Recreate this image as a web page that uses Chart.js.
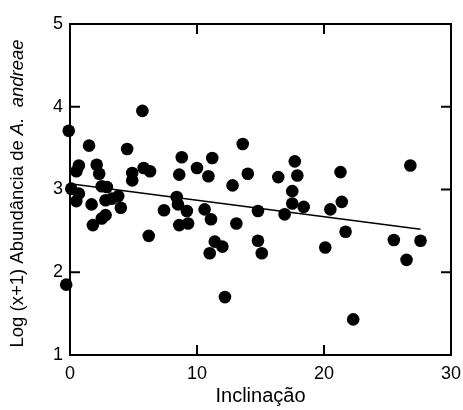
<!DOCTYPE html>
<html>
<head>
<meta charset="utf-8">
<script src="https://cdn.jsdelivr.net/npm/chart.js@4"></script>
<style>
  html, body { margin: 0; padding: 0; background: #fff; }
</style>
</head>
<body>
<canvas id="myChart" width="463" height="410"></canvas>
<script>
// Inclinação (x) and log(x+1) abundance (y), one entry per sampled plot
const inclinacao = [
  -0.3, -0.1, 0.1, 0.5, 0.7, 0.7, 0.5, 1.5, 1.7, 1.8,
  2.1, 2.3, 2.5, 2.9, 2.8, 3.3, 3.8, 4.0, 2.8, 2.5,
  4.5, 4.9, 4.9, 5.7, 5.8, 6.3, 6.2, 7.4, 8.4, 8.5,
  8.6, 8.8, 8.6, 9.3, 9.2, 10.0, 10.9, 11.2, 10.6, 11.1,
  11.4, 12.0, 11.0, 12.2, 12.8, 13.1, 13.6, 14.0, 14.8, 14.8,
  15.1, 16.4, 16.9, 17.5, 17.5, 17.7, 17.9, 18.4, 20.1, 20.5,
  21.3, 21.4, 21.7, 22.3, 25.5, 26.5, 26.8, 27.6
];
const abundancia = [
  1.85, 3.71, 3.01, 3.22, 3.29, 2.95, 2.86, 3.53, 2.82, 2.57,
  3.30, 3.19, 3.04, 3.03, 2.87, 2.89, 2.92, 2.78, 2.69, 2.65,
  3.49, 3.20, 3.11, 3.95, 3.26, 3.22, 2.44, 2.75, 2.91, 2.82,
  3.18, 3.39, 2.57, 2.59, 2.74, 3.26, 3.16, 3.38, 2.76, 2.64,
  2.37, 2.31, 2.23, 1.70, 3.05, 2.59, 3.55, 3.19, 2.74, 2.38,
  2.23, 3.15, 2.70, 2.98, 2.83, 3.34, 3.17, 2.79, 2.30, 2.76,
  3.21, 2.85, 2.49, 1.43, 2.39, 2.15, 3.29, 2.38
];

// fitted regression line, ends of the sampled range
const fitX = [0, 27.6];
const fitY = [3.07, 2.52];

const xTicks = [0, 10, 20, 30];
const yTicks = [1, 2, 3, 4, 5];

const fontFamily = "'Liberation Sans', Arial, sans-serif";

// box around the plot, with inward tick marks on all four sides
const framePlugin = {
  id: "plotFrame",
  beforeDatasetsDraw(chart) {
    const ctx = chart.ctx;
    const a = chart.chartArea;
    const sx = chart.scales.x;
    const sy = chart.scales.y;
    const len = 10;
    ctx.save();
    ctx.strokeStyle = "#000";
    ctx.lineWidth = 2;
    ctx.strokeRect(a.left, a.top, a.right - a.left, a.bottom - a.top);
    ctx.beginPath();
    xTicks.forEach((v) => {
      const px = sx.getPixelForValue(v);
      ctx.moveTo(px, a.bottom);
      ctx.lineTo(px, a.bottom - len);
      ctx.moveTo(px, a.top);
      ctx.lineTo(px, a.top + len);
    });
    yTicks.forEach((v) => {
      const py = sy.getPixelForValue(v);
      ctx.moveTo(a.left, py);
      ctx.lineTo(a.left + len, py);
      ctx.moveTo(a.right, py);
      ctx.lineTo(a.right - len, py);
    });
    ctx.stroke();
    ctx.restore();
  },
};

// y title has an italic species name, so it is drawn by hand
const yTitlePlugin = {
  id: "yTitle",
  afterDraw(chart) {
    const ctx = chart.ctx;
    const a = chart.chartArea;
    const parts = [
      { text: "Log (x+1) Abundância de ", font: "18.5px " + fontFamily },
      { text: "A.  andreae", font: "italic 18.5px " + fontFamily },
    ];
    ctx.save();
    let total = 0;
    parts.forEach((p) => {
      ctx.font = p.font;
      p.w = ctx.measureText(p.text).width;
      total += p.w;
    });
    ctx.translate(18, (a.top + a.bottom) / 2 + 4);
    ctx.rotate(-Math.PI / 2);
    ctx.fillStyle = "#000";
    ctx.textBaseline = "middle";
    ctx.textAlign = "left";
    let x = -total / 2;
    parts.forEach((p) => {
      ctx.font = p.font;
      ctx.fillText(p.text, x, 0);
      x += p.w;
    });
    ctx.restore();
  },
};

new Chart(document.getElementById("myChart"), {
  type: "scatter",
  data: {
    datasets: [
      {
        label: "Abundância",
        data: inclinacao.map((x, i) => ({ x: x, y: abundancia[i] })),
        backgroundColor: "#000",
        borderWidth: 0,
        pointRadius: 6.3,
        pointHoverRadius: 6.3,
      },
      {
        label: "Regressão",
        data: fitX.map((x, i) => ({ x: x, y: fitY[i] })),
        showLine: true,
        borderColor: "#000",
        borderWidth: 1.5,
        pointRadius: 0,
      },
    ],
  },
  options: {
    responsive: false,
    animation: false,
    clip: false,
    layout: { padding: { top: 24, right: 12, bottom: 0, left: 0 } },
    plugins: {
      legend: { display: false },
      tooltip: { enabled: false },
    },
    scales: {
      x: {
        type: "linear",
        min: 0,
        max: 30,
        afterFit(scale) {
          scale.height = 55;
          scale.paddingLeft = 0;
          scale.paddingRight = 0;
        },
        ticks: {
          stepSize: 10,
          color: "#000",
          padding: 8,
          maxRotation: 0,
          font: { family: fontFamily, size: 18 },
        },
        grid: { display: false, drawTicks: false },
        border: { display: false },
        title: {
          display: true,
          text: "Inclinação",
          color: "#000",
          padding: { top: 0, bottom: 2 },
          font: { family: fontFamily, size: 20 },
        },
      },
      y: {
        type: "linear",
        min: 1,
        max: 5,
        afterFit(scale) { scale.width = 70; },
        ticks: {
          stepSize: 1,
          color: "#000",
          padding: 7,
          font: { family: fontFamily, size: 18 },
        },
        grid: { display: false, drawTicks: false },
        border: { display: false },
      },
    },
  },
  plugins: [framePlugin, yTitlePlugin],
});
</script>
</body>
</html>
